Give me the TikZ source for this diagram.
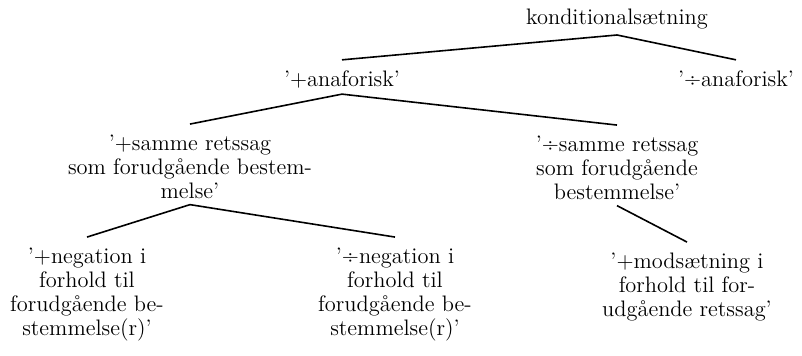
\documentclass[tikz,border=0pt]{standalone}
\usepackage{tikz}
\usetikzlibrary{positioning}

\begin{document}
\begin{tikzpicture}[
    x=0.5pt, y=-0.5pt,
    term/.style={align=center, inner xsep=0pt, inner ysep=3pt, anchor=base, font=\fontsize{11.2}{12}\selectfont},
    branch/.style={line width=0.8pt}
]
\useasboundingbox (0,0) rectangle (802,355);
% Add tree here (base = last line of each term)
\node[term] (kond) at (617,24) {konditionalsætning};
\node[term] (anaPlus) at (342,86) {'+anaforisk'};
\node[term] (anaMinus) at (736,86) {'÷anaforisk'};
\node[term] (sagPlus) at (190,198) {'+samme retssag\\som forudgående bestem-\\melse'};
\node[term] (sagMinus) at (617,199) {'÷samme retssag\\som forudgående\\bestemmelse'};
\node[term] (negPlus) at (87,335) {'+negation i\\forhold til\\forudgående be-\\stemmelse(r)'};
\node[term] (negMinus) at (395,335) {'÷negation i\\forhold til\\forudgående be-\\stemmelse(r)'};
\node[term] (modPlus) at (687,316) {'+modsætning i\\forhold til for-\\udgående retssag'};

\draw[branch] (kond.south) -- ([yshift=2pt]anaPlus.north);
\draw[branch] (kond.south) -- ([yshift=2pt]anaMinus.north);
\draw[branch] (anaPlus.south) -- ([yshift=2pt]sagPlus.north);
\draw[branch] (anaPlus.south) -- ([yshift=2pt]sagMinus.north);
\draw[branch] (sagPlus.south) -- ([yshift=2pt]negPlus.north);
\draw[branch] (sagPlus.south) -- ([yshift=2pt]negMinus.north);
\draw[branch] (sagMinus.south) -- ([yshift=2pt]modPlus.north);
\end{tikzpicture}
\end{document}
